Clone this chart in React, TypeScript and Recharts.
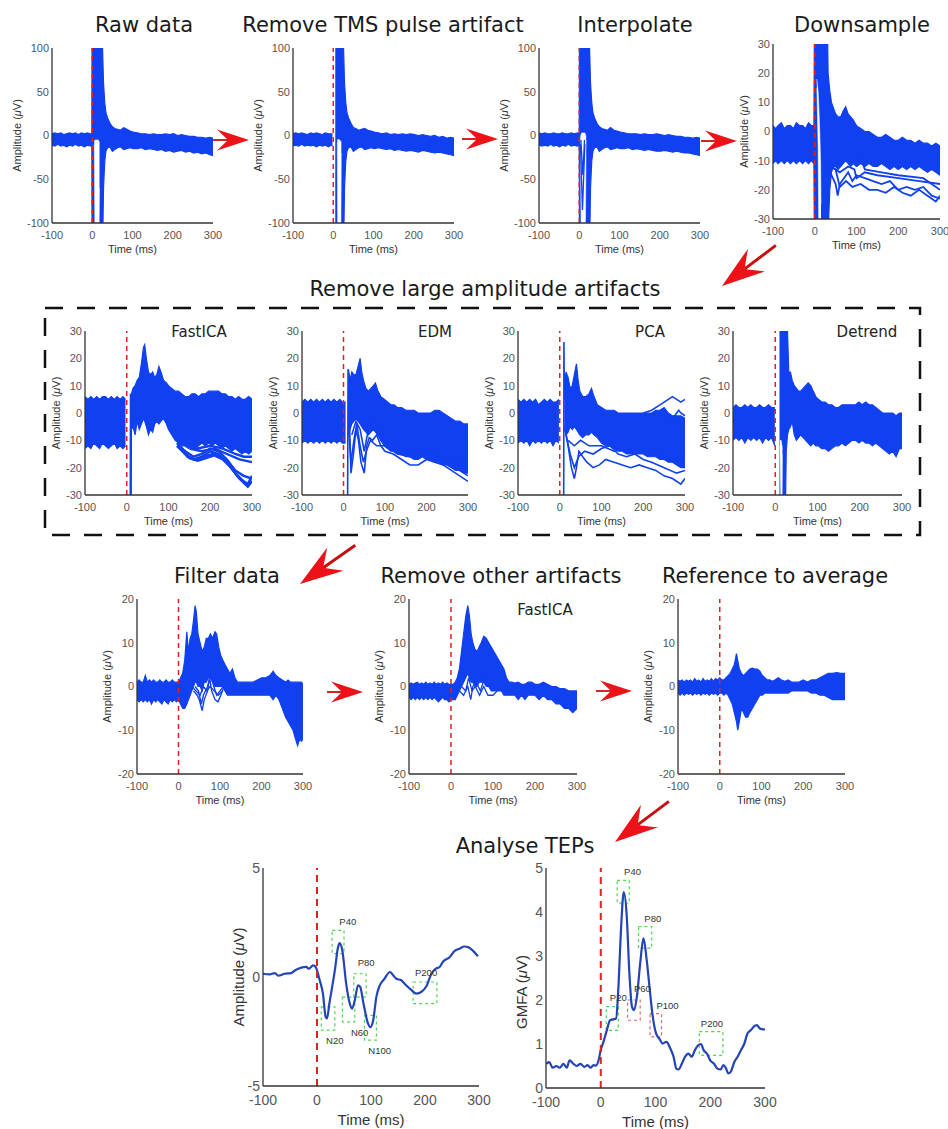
import React from 'react';
import { ComposedChart, Area, Line, XAxis, YAxis, ReferenceLine, ReferenceArea, Scatter } from 'recharts';

type Tri = [number, number, number];
type Pt = [number, number];

const BLUE = '#1040f0';
const TEP_BLUE = '#2443b6';
const TICK_FONT = 'Liberation Sans, Arial, sans-serif';
const TITLE_FONT = 'DejaVu Sans, Verdana, sans-serif';

const timeTicks = [-100, 0, 100, 200, 300];
const ticks100 = [-100, -50, 0, 50, 100];
const ticks30 = [-30, -20, -10, 0, 10, 20, 30];
const ticks20 = [-20, -10, 0, 10, 20];
const ticks5 = [-5, 0, 5];
const ticksGmfa = [0, 1, 2, 3, 4, 5];

// ---------- Row 1 ----------
const rawBand: Tri[] = [[-100,-11,2],[-93,-12,3],[-86,-10,2],[-78,-12,3],[-71,-11,1],[-64,-13,2],[-56,-11,3],[-49,-12,2],[-42,-10,3],[-34,-12,1],[-27,-11,3],[-20,-13,2],[-12,-11,3],[-5,-12,2],[-1,-11,2],
  [0,-200,200],[22,-200,200],[25,-150,110],[28,-60,60],[31,-30,38],[34,-18,26],[38,-14,20],[44,-13,14],[50,-18,10],[56,-16,8],[63,-14,7],[70,-13,6],[78,-16,9],[86,-15,7],[94,-14,5],[102,-15,4],[112,-15,3],[122,-14,2],[132,-16,2],[142,-15,1],[152,-16,2],[162,-17,1],[172,-16,1],[182,-18,2],[192,-17,1],[202,-19,2],[212,-18,0],[222,-17,1],[232,-19,0],[242,-18,-1],[252,-20,-1],[262,-19,-2],[272,-21,-2],[282,-20,-3],[292,-22,-2],[300,-23,-3]];
const rawHole: Tri[] = [[5,-10,-6],[8,-200,-5],[15,-200,-5],[18,-60,-8]];

const tmsPre: Tri[] = [[-100,-12,2],[-93,-11,3],[-86,-12,2],[-78,-10,3],[-71,-12,2],[-64,-11,1],[-56,-12,3],[-49,-11,2],[-42,-13,3],[-34,-11,2],[-27,-12,1],[-20,-11,3],[-12,-13,2],[-5,-11,2],[-2,-12,2]];
const tmsPost: Tri[] = [[5,-200,200],[22,-200,200],[25,-150,110],[28,-60,60],[31,-30,38],[34,-18,26],[38,-14,20],[44,-13,14],[50,-18,9],[56,-16,8],[63,-14,6],[70,-13,7],[78,-16,8],[86,-15,6],[94,-14,5],[102,-15,4],[112,-14,3],[122,-15,2],[132,-16,3],[142,-15,1],[152,-17,2],[162,-16,1],[172,-17,2],[182,-18,1],[192,-17,2],[202,-18,1],[212,-19,0],[222,-17,1],[232,-18,0],[242,-19,-1],[252,-20,0],[262,-19,-2],[272,-20,-1],[282,-21,-3],[292,-22,-2],[300,-23,-3]];
const tmsHole: Tri[] = [[10,-8,-6],[12,-200,-4],[18,-200,-6],[20,-20,-8]];

const interpBand: Tri[] = [[-100,-11,3],[-93,-12,2],[-86,-11,3],[-78,-12,2],[-71,-10,2],[-64,-12,3],[-56,-11,2],[-49,-13,2],[-42,-11,3],[-34,-12,2],[-27,-10,2],[-20,-12,3],[-12,-11,2],[-5,-12,3],[0,-11,2],
  [1,-200,200],[22,-200,200],[25,-150,110],[28,-60,60],[31,-30,38],[34,-18,26],[38,-14,20],[44,-13,14],[50,-18,10],[56,-16,8],[63,-14,7],[70,-13,6],[78,-16,9],[86,-15,6],[94,-14,5],[102,-15,4],[112,-15,3],[122,-14,2],[132,-16,2],[142,-15,2],[152,-16,1],[162,-17,2],[172,-16,1],[182,-17,1],[192,-18,2],[202,-18,1],[212,-17,0],[222,-18,1],[232,-19,0],[242,-18,-1],[252,-19,-1],[262,-20,-2],[272,-20,-2],[282,-21,-3],[292,-22,-2],[300,-23,-3]];
const interpHole: Tri[] = [[3,-3,-1],[6,-200,3],[14,-200,3],[17,-5,-1]];
const interpTraces: Pt[][] = [[[3,-10],[8,-85],[14,-10]], [[4,-5],[9,-45],[13,-5]]];

const downBand: Tri[] = [[-100,-11,2],[-94,-10,1],[-88,-11,2],[-80,-10,3],[-73,-11,1],[-66,-10,2],[-58,-11,2],[-51,-10,1],[-44,-11,3],[-36,-10,2],[-29,-11,2],[-22,-10,1],[-15,-11,3],[-8,-10,2],[-2,-11,2],
  [0,-60,60],[28,-60,60],[32,-35,20],[36,-20,14],[40,-14,10],[45,-12,8],[50,-12,6],[56,-13,5],[62,-12,5],[68,-11,7],[74,-10,8.5],[80,-11,6],[86,-12,5],[92,-11,4],[100,-12,2],[110,-11,1],[120,-12,0],[130,-11,0],[140,-12,-1],[150,-12,-2],[160,-11,-2],[170,-12,-1],[180,-13,-2],[190,-12,-3],[200,-13,-3],[210,-12,-2],[220,-13,-3],[230,-12,-3],[240,-13,-4],[250,-12,-3],[260,-13,-4],[270,-14,-4],[280,-13,-5],[290,-14,-4],[300,-15,-5]];
const downHole: Tri[] = [[5,15,18],[8,-5,14],[10,-40,8],[12,-40,0],[14,-40,-10],[15,-40,-25]];
const downTraces: Pt[][] = [
  [[30,-10],[40,-15],[50,-18],[55,-22],[60,-18],[70,-16],[80,-14],[90,-17],[100,-15],[120,-16],[140,-17],[160,-18],[180,-17],[200,-20],[220,-19],[240,-20],[260,-19],[280,-22],[300,-23]],
  [[35,-12],[50,-13],[60,-19],[75,-17],[90,-19],[110,-18],[130,-20],[150,-20],[170,-21],[190,-19],[210,-21],[230,-22],[250,-20],[270,-22],[290,-24],[300,-22]],
  [[40,-12],[60,-14],[80,-12],[95,-13],[100,-16],[120,-14],[150,-15],[200,-16],[250,-17],[300,-18]],
  [[100,-12],[110,-9],[120,-13],[160,-14],[200,-15],[260,-16],[300,-20]],
];

// ---------- Row 2 ----------
const icaPre: Tri[] = [[-100,-13,6],[-93,-12,5],[-86,-13,6],[-79,-11,5],[-72,-12,6],[-65,-13,5],[-58,-11,6],[-51,-12,6],[-44,-13,5],[-37,-12,6],[-30,-11,5],[-23,-13,6],[-16,-12,5],[-9,-13,6],[-3,-12,5]];
const icaPost: Tri[] = [[11,-6,7],[15,-5,9],[20,-8,10],[25,-3,12],[30,-6,13],[35,-4,18],[40,-2,24],[43,-3,25],[47,-5,20],[52,-8,15],[57,-6,14],[62,-7,15],[67,-4,13],[72,-3,14],[77,-4,17],[82,-3,15],[88,-2,12],[95,-4,11],[100,-6,10],[108,-8,9],[116,-10,8],[124,-11,8],[132,-12,7],[140,-12,6],[148,-13,6],[156,-12,7],[164,-13,7],[172,-12,6],[180,-11,7],[188,-12,7],[196,-11,8],[204,-12,8],[212,-11,8],[220,-12,8],[228,-13,7],[236,-12,7],[244,-13,6],[252,-14,6],[260,-13,5],[268,-14,6],[276,-15,5],[284,-14,5],[292,-15,6],[300,-14,5]];
const icaTraces: Pt[][] = [
  [[9.5,-30],[10,7],[12,-5]],
  [[120,-12],[140,-15],[160,-17],[180,-16],[200,-14],[220,-15],[240,-18],[260,-22],[280,-25],[290,-26],[300,-23]],
  [[120,-11],[140,-14],[160,-16],[180,-15],[200,-13],[220,-14],[240,-17],[260,-21],[280,-23],[300,-24]],
  [[125,-12],[145,-16],[165,-17],[185,-16],[205,-15],[225,-16],[245,-19],[265,-23],[285,-26],[300,-25]],
  [[130,-13],[150,-16.5],[170,-17.5],[190,-16.5],[210,-15.5],[230,-17],[250,-20],[270,-24],[290,-27],[300,-25]],
  [[140,-12],[170,-13],[200,-12],[230,-13],[260,-15],[280,-16],[300,-16]],
  [[150,-13],[180,-14],[210,-13],[240,-15],[270,-17],[300,-18]],
];

const edmBand: Tri[] = [[-100,-11,4],[-93,-10,5],[-86,-11,4],[-79,-10,5],[-72,-11,4],[-65,-10,5],[-58,-11,4],[-51,-10,5],[-44,-11,4],[-37,-10,5],[-30,-11,4],[-23,-10,5],[-16,-11,4],[-9,-10,5],[-3,-11,4],[5,-11,4]];
const edmPost: Tri[] = [[12,-8,16],[16,-6,12],[20,-4,15],[25,-3,14],[30,-2,14],[35,-3,17],[40,-4,20],[44,-5,15],[48,-6,12],[54,-7,9],[60,-8,8],[66,-7,9],[72,-6,10],[77,-7,11],[83,-8,8],[90,-10,6],[98,-12,5],[106,-13,4],[114,-14,3],[122,-14,3],[130,-15,2],[140,-15,2],[150,-16,1],[160,-16,1],[170,-17,1],[180,-17,0],[190,-16,0],[200,-17,0],[210,-17,0],[220,-18,1],[230,-18,1],[240,-19,0],[250,-19,-1],[260,-20,-2],[270,-21,-3],[280,-21,-3],[290,-22,-4],[300,-22,-4]];
const edmTraces: Pt[][] = [
  [[10,-30],[11,16],[14,-2],[18,-22],[24,-15],[30,-6],[36,-10],[42,-18],[46,-20],[50,-22],[56,-12],[62,-9],[70,-10],[80,-8],[90,-12],[100,-14],[120,-15],[140,-17],[160,-19],[180,-19],[200,-17],[220,-18],[240,-19],[260,-21],[280,-23],[300,-25]],
  [[12,-5],[18,-18],[25,-10],[32,-4],[40,-12],[48,-18],[55,-14],[65,-10],[80,-12],[100,-12],[130,-15],[160,-16],[190,-15],[220,-17],[250,-19],[280,-21],[300,-23]],
  [[20,-8],[30,-3],[40,-6],[50,-14],[60,-6],[75,-2],[90,-10],[120,-12],[160,-14],[200,-15],[240,-16],[270,-18],[300,-20]],
];

const pcaPre: Tri[] = [[-100,-11,5],[-93,-10,4],[-86,-11,5],[-79,-10,4],[-72,-12,5],[-65,-10,4],[-58,-11,5],[-51,-10,3],[-44,-11,4],[-37,-10,5],[-30,-11,4],[-23,-10,5],[-16,-12,4],[-9,-10,4],[-2,-11,5]];
const pcaPost: Tri[] = [[11,-6,10],[15,-8,15],[20,-7,13],[25,-5,9],[30,-6,10],[35,-5,14],[40,-6,18],[44,-7,12],[48,-8,8],[55,-9,6],[62,-8,6],[70,-8,7],[76,-7,9],[82,-8,6],[90,-9,3],[100,-11,2],[110,-12,1],[120,-12,1],[130,-13,1],[140,-14,0],[150,-14,0],[160,-15,0],[170,-15,0],[180,-15,0],[190,-15,0],[200,-15,0],[210,-16,0],[220,-16,0],[230,-16,1],[240,-17,1],[250,-17,2],[260,-18,0],[270,-18,-1],[280,-19,-1],[290,-20,-1],[300,-20,-2]];
const pcaTraces: Pt[][] = [
  [[9.5,-30],[10,26],[11,5]],
  [[200,0],[220,1],[240,3],[260,5],[270,6],[280,5],[290,4],[300,5]],
  [[230,0],[250,-1],[270,-2],[285,1],[290,0],[300,-1]],
  [[12,-5],[20,-12],[28,-20],[35,-24],[40,-20],[46,-14],[55,-16],[65,-18],[80,-20],[95,-19],[110,-17],[130,-18],[150,-19],[170,-20],[190,-19],[210,-20],[230,-21],[250,-23],[270,-24],[290,-26],[300,-24]],
  [[15,-8],[25,-15],[35,-20],[45,-16],[60,-14],[80,-15],[100,-13],[120,-12],[140,-15],[160,-16],[180,-15],[200,-17],[220,-18],[250,-20],[280,-22],[300,-21]],
  [[20,-10],[35,-12],[50,-10],[70,-12],[100,-12],[130,-14],[160,-13],[200,-14],[230,-15],[260,-17],[300,-18]],
];

const detPre: Tri[] = [[-100,-10,2],[-93,-9,3],[-86,-10,2],[-79,-9,2],[-72,-11,3],[-65,-9,2],[-58,-10,3],[-51,-9,2],[-44,-10,2],[-37,-9,3],[-30,-11,2],[-23,-9,2],[-16,-10,3],[-9,-9,2],[-1,-12,2]];
const detPost: Tri[] = [[10,-60,60],[22,-60,60],[26,-14,60],[29,-8,30],[32,-6,15],[36,-5,15],[40,-3,12],[45,-8,10],[50,-10,9],[55,-9,8],[60,-8,8],[66,-9,9],[72,-10,10],[78,-11,11],[84,-12,10],[90,-11,8],[96,-12,6],[102,-12,5],[110,-13,4],[118,-13,4],[126,-14,3],[134,-13,3],[142,-12,2],[150,-12,2],[158,-11,3],[166,-12,3],[174,-11,3],[182,-10,3],[190,-10,3],[198,-11,4],[206,-10,3],[214,-11,4],[222,-11,3],[230,-12,3],[238,-11,2],[246,-12,1],[254,-13,0],[262,-14,0],[270,-15,0],[278,-14,0],[286,-16,-1],[294,-13,0],[300,-13,0]];
const detHole: Tri[] = [[11,-12,-10],[14,-40,-10],[16,-40,-12],[17,-15,-13]];

// ---------- Row 3 ----------
const filtBand: Tri[] = [[-100,-3,1],[-95,-3.5,1.5],[-90,-3,1],[-85,-3.5,1],[-80,-3,2.5],[-75,-3.5,1],[-70,-3,1.5],[-65,-4,1],[-60,-3,1.5],[-55,-3.5,1],[-50,-3,1],[-45,-3.5,1.5],[-40,-4,1],[-35,-3,1],[-30,-3.5,1.5],[-25,-4,1],[-20,-3,1],[-15,-3.5,1.5],[-10,-3,1],[-5,-3.5,1],[0,-3,1],
  [5,-4,2],[10,-5,3],[15,-5,6],[20,-4,12.5],[24,-3,8],[28,-2,11],[32,-1,12],[36,0,15],[40,1,18.5],[43,1,17],[47,0,12],[52,0,10],[57,-1,8],[62,1,9],[67,1,11],[72,2,11],[77,2,12],[82,1,11],[88,0,12.5],[92,0,12],[97,0,9],[102,0,7],[107,0,6],[112,-1,5],[118,-2,4],[124,-2,3],[130,-2,4],[136,-2,2],[142,-2,1],[150,-2,1],[160,-2,1],[170,-2,1],[180,-2,1],[190,-2,1.5],[200,-2,2],[210,-2,2],[220,-2,2.5],[228,-3,3.5],[235,-2,2.5],[242,-3,2],[250,-5,1.5],[258,-7,1],[264,-8,1.5],[270,-9,1],[276,-10,1],[282,-12,1],[287,-13.5,1],[292,-12,1],[296,-12.5,1],[300,-12,0.5]];
const filtTraces: Pt[][] = [
  [[36,-1],[45,-2],[50,-3],[57,-5.5],[62,-3],[70,-1],[75,2],[80,-1],[88,-3],[95,-3.5],[102,-2],[110,0]],
  [[40,0],[48,-1],[55,-4],[60,-2],[70,0],[78,3],[85,0],[92,-2],[100,-1],[108,0]],
  [[32,0],[42,-1],[52,-2],[60,0],[68,-1],[76,0],[86,-1],[96,-2],[106,-1]],
];

const otherBand: Tri[] = [[-100,-2.5,0.5],[-95,-3,0.8],[-90,-2.5,0.5],[-85,-3,0.8],[-80,-2.5,1],[-75,-3,0.5],[-70,-2.5,0.8],[-65,-3,0.5],[-60,-2.5,1],[-55,-3,0.5],[-50,-2.5,0.8],[-45,-3,0.5],[-40,-2.5,1],[-35,-3,0.5],[-30,-3.5,0.8],[-25,-3,0.5],[-20,-2.5,1],[-15,-3,0.5],[-10,-3,0.8],[-5,-3.5,0.5],[0,-3,0.5],
  [5,-3,0.5],[10,-3,1],[15,-2,2],[20,-1,4],[25,0,8],[30,1,12],[35,2,16],[40,3,18.5],[44,2,16],[48,1,12],[52,1,10],[57,0,8.5],[62,0,8],[67,1,9],[72,1,10],[78,1,11.5],[84,0,11],[90,0,10],[96,-1,9],[102,-1,8],[108,-1,7],[114,-1,6],[120,-1,5],[126,-2,4],[132,-2,2],[138,-2,1],[145,-2,1],[152,-2,0.8],[160,-3,1],[168,-2,0.5],[176,-3,0.5],[184,-2,1],[192,-2,1],[200,-2,0.5],[210,-3,0.5],[220,-2,1],[230,-3,0.5],[240,-3,0],[250,-4,0],[260,-4,-0.5],[270,-5,-0.5],[280,-5,-1],[290,-6,-1],[300,-5,-1]];
const otherTraces: Pt[][] = [
  [[20,-1],[30,-2],[40,0],[47,-3],[52,0],[60,1],[70,-1],[80,2],[90,0],[100,-1]],
  [[25,0],[35,-1],[42,2],[50,-1],[58,0],[68,-2],[78,0],[88,-2],[100,-2],[110,-1]],
];

const refBand: Tri[] = [[-100,-1.5,1.5],[-95,-2,1.2],[-90,-1.5,1.5],[-85,-2,1],[-80,-1.5,1.5],[-75,-1.8,1.2],[-70,-1.5,1.5],[-65,-2,1],[-60,-1.5,1.8],[-55,-1.8,1.2],[-50,-1.5,1.5],[-45,-2,1],[-40,-1.5,1.8],[-35,-1.8,1.2],[-30,-1.5,1.5],[-25,-2,1.2],[-20,-1.5,1.8],[-15,-1.8,1.2],[-10,-1.5,1.8],[-5,-2,1.5],[0,-1.5,2],
  [5,-1.5,1.5],[10,-2,1.5],[15,-1.5,2],[20,-2,2.5],[25,-3,3],[30,-4,4],[35,-6,5],[40,-8,7.5],[43,-10,6],[47,-8,4],[52,-5,3],[57,-6,2.5],[62,-7,3],[67,-7,3.5],[72,-6,4],[78,-5,4.2],[84,-4,4],[90,-3,4],[96,-2,3.5],[102,-2,2.5],[108,-1.5,2],[114,-1.5,1.5],[120,-1.5,1.5],[126,-1.5,1.2],[132,-1.5,1.5],[140,-1.5,2],[148,-1.5,1.5],[156,-1.5,1.2],[164,-1.5,1.5],[172,-1,1],[180,-1,1],[190,-1,1],[200,-1,1.5],[210,-1,1],[220,-1.5,1.5],[230,-1.5,1.5],[240,-2,2],[250,-2,2.5],[260,-2.5,3],[270,-3,3],[280,-3,3.2],[290,-3,3],[300,-3,3]];

// ---------- Row 4 ----------
const tepAmp: Pt[] = [[-100,0.15],[-88,0.12],[-78,0.18],[-72,0.06],[-60,0.15],[-48,0.18],[-41,0.3],[-29,0.43],[-20,0.46],[-15,0.38],[-7,0.53],[-2.5,0.46],[5,-0.15],[11,-0.76],[16,-1.83],[18.5,-1.9],[23,-1.2],[33,0.3],[39,1.37],[42,1.55],[47,1.2],[54,-0.3],[60.5,-1.2],[65,-1.45],[70,-1.07],[76,-0.38],[80,-0.45],[86,-1.2],[94,-2.1],[99,-2.3],[104,-2.0],[110,-0.9],[116,-0.4],[125,-0.08],[135,0.23],[141,0.08],[147,-0.08],[156,-0.15],[165,-0.38],[175,-0.6],[184,-0.76],[193,-0.69],[202,-0.45],[212,0.15],[220,0.38],[227,0.46],[233,0.69],[246,0.92],[255,1.2],[264,1.3],[273,1.4],[280,1.37],[289,1.2],[298,0.95]];
const tepGmfa: Pt[] = [[-100,0.55],[-94,0.59],[-88,0.46],[-81,0.5],[-75,0.46],[-68,0.55],[-62,0.46],[-57,0.63],[-50,0.55],[-44,0.5],[-37,0.55],[-30,0.48],[-24,0.52],[-19,0.46],[-13,0.52],[-8.5,0.51],[-4,0.63],[0,0.86],[5,1.05],[11,1.31],[17,1.54],[23,1.56],[28,1.58],[32,2.23],[37,3.6],[42,4.45],[47.5,3.9],[52,2.68],[57,1.85],[61,1.77],[66,2.07],[72,2.83],[78,3.4],[84,2.9],[89,2.3],[95,1.62],[101,1.24],[107,1.12],[113,1.01],[120,1.05],[127,0.9],[133,0.71],[138,0.44],[142,0.42],[148,0.55],[154,0.71],[160,0.78],[166,0.71],[172,0.86],[178,0.97],[183,1.0],[188,0.86],[194,0.78],[200,0.63],[207,0.55],[213,0.44],[219,0.42],[224,0.52],[229,0.44],[233,0.33],[237,0.36],[244,0.59],[250,0.71],[256,0.86],[262,1.0],[268,1.24],[274,1.31],[280,1.4],[285,1.43],[291,1.35],[300,1.33]];

type Box = [number, number, number, number, string];
const ampBoxes: Box[] = [[8,33,-1.37,-2.44,'g'],[28,50,2.14,1.07,'g'],[47,70,-0.92,-2.06,'g'],[68,91,0.15,-0.92,'g'],[88,110,-1.76,-2.9,'g'],[178,222,-0.23,-1.22,'g']];
const gmfaBoxes: Box[] = [[10,32,1.85,1.31,'g'],[30,52,4.72,4.2,'g'],[49,72,2.0,1.54,'r'],[69,93,3.67,3.18,'g'],[90,111,1.69,1.16,'r'],[180,223,1.28,0.74,'g']];
const ampLabels = [{t:57,v:2.5,name:'P40'},{t:91,v:0.6,name:'P80'},{t:202,v:0.15,name:'P200'},{t:33,v:-2.98,name:'N20'},{t:79,v:-2.6,name:'N60'},{t:116,v:-3.4,name:'N100'}];
const gmfaLabels = [{t:58,v:4.9,name:'P40'},{t:95,v:3.84,name:'P80'},{t:32,v:2.04,name:'P20'},{t:76,v:2.24,name:'P60'},{t:122,v:1.86,name:'P100'},{t:203,v:1.44,name:'P200'}];

const toBand = (a: Tri[]) => a.map(([t, lo, hi]) => ({ t, r: [lo, hi] }));
const toLine = (a: Pt[]) => a.map(([t, v]) => ({ t, v }));

type PanelProps = {
  L: number; T: number; W: number; H: number;
  yDomain: [number, number]; yTicks: number[];
  bands?: Tri[][]; holes?: Tri[][]; traces?: Pt[][]; tw?: number;
  big?: boolean; line?: Pt[]; boxes?: Box[]; labels?: { t: number; v: number; name: string }[];
};

function Panel(p: PanelProps) {
  const YW = 45, MT = 14, MR = 14, XH = 40;
  const fs = p.big ? 14 : 11;
  return (
    <div style={{ position: 'absolute', left: p.L - YW, top: p.T - MT }}>
      <ComposedChart width={p.W + YW + MR} height={p.H + MT + XH} margin={{ top: MT, right: MR, left: 0, bottom: 0 }}>
        <XAxis type="number" dataKey="t" domain={[-100, 300]} ticks={timeTicks} allowDataOverflow height={XH}
          axisLine={{ stroke: '#333', strokeWidth: 1.3 }} tickLine={false} tickSize={4} tickMargin={p.big ? 5 : 4}
          tick={{ fill: '#555555', fontSize: fs, fontFamily: TICK_FONT }} interval={0} />
        <YAxis type="number" domain={p.yDomain} ticks={p.yTicks} allowDataOverflow width={YW}
          axisLine={{ stroke: '#333', strokeWidth: 1.3 }} tickLine={false} tickSize={2} tickMargin={1}
          tick={{ fill: '#555555', fontSize: fs, fontFamily: TICK_FONT }} interval={0} />
        {(p.bands || []).map((b, i) => (
          <Area key={'b' + i} data={toBand(b)} dataKey="r" type="linear" stroke={BLUE} strokeWidth={1.2}
            fill={BLUE} fillOpacity={1} dot={false} activeDot={false} isAnimationActive={false} />
        ))}
        {(p.holes || []).map((b, i) => (
          <Area key={'h' + i} data={toBand(b)} dataKey="r" type="linear" stroke="#ffffff" strokeWidth={0.5}
            fill="#ffffff" fillOpacity={1} dot={false} activeDot={false} isAnimationActive={false} />
        ))}
        {(p.traces || []).map((tr, i) => (
          <Line key={'t' + i} data={toLine(tr)} dataKey="v" type="linear" stroke={BLUE} strokeWidth={p.tw ?? 1.3}
            dot={false} activeDot={false} isAnimationActive={false} />
        ))}
        {(p.boxes || []).map((b, i) => (
          <ReferenceArea key={'x' + i} x1={b[0]} x2={b[1]} y1={b[3]} y2={b[2]} fill="none" fillOpacity={0}
            stroke={b[4] === 'g' ? '#4fd64f' : '#e06a6a'} strokeDasharray="3 3" strokeWidth={1.2} ifOverflow="visible" />
        ))}
        {p.line && (
          <Line data={toLine(p.line)} dataKey="v" type="monotone" stroke={TEP_BLUE} strokeWidth={2.2}
            dot={false} activeDot={false} isAnimationActive={false} />
        )}
        {p.labels && (
          <Scatter data={p.labels} dataKey="v" isAnimationActive={false}
            shape={(s: any) => (
              <text x={s.cx} y={s.cy} textAnchor="middle" dominantBaseline="middle" fontSize={9.5}
                fill="#333" fontFamily={TICK_FONT}>{s.payload.name}</text>
            )} />
        )}
        <ReferenceLine x={0} stroke="#dd2222" strokeDasharray={p.big ? '7 5' : '5 4'} strokeWidth={p.big ? 2 : 1.5} />
      </ComposedChart>
    </div>
  );
}

type Geo = { L: number; T: number; W: number; H: number; yl: string; off: number; big?: boolean; ylc?: number };
const geoms: Geo[] = [
  { L: 52, T: 48, W: 161, H: 175, yl: 'amp', off: 34 },
  { L: 293, T: 48, W: 161, H: 175, yl: 'amp', off: 34 },
  { L: 539, T: 48, W: 161, H: 175, yl: 'amp', off: 34 },
  { L: 773, T: 44, W: 167, H: 175, yl: 'amp', off: 28 },
  { L: 85, T: 331, W: 167, H: 164, yl: 'amp', off: 28 },
  { L: 302, T: 331, W: 166, H: 164, yl: 'amp', off: 28 },
  { L: 518, T: 331, W: 167, H: 164, yl: 'amp', off: 28 },
  { L: 733, T: 331, W: 169, H: 164, yl: 'amp', off: 28 },
  { L: 137, T: 599, W: 166, H: 175, yl: 'amp', off: 29 },
  { L: 409, T: 599, W: 168, H: 175, yl: 'amp', off: 29 },
  { L: 678, T: 599, W: 167, H: 175, yl: 'amp', off: 29 },
  { L: 263, T: 868, W: 216, H: 218, yl: 'amp', off: 23, big: true },
  { L: 546, T: 868, W: 219, H: 220, yl: 'gmfa', off: 23, big: true, ylc: 992 },
];

const titles = [
  { s: 'Raw data', x: 144, y: 32 },
  { s: 'Remove TMS pulse artifact', x: 383, y: 32 },
  { s: 'Interpolate', x: 635, y: 32 },
  { s: 'Downsample', x: 862, y: 32 },
  { s: 'Remove large amplitude artifacts', x: 485, y: 296 },
  { s: 'Filter data', x: 227, y: 583 },
  { s: 'Remove other artifacts', x: 501, y: 583 },
  { s: 'Reference to average', x: 775, y: 583 },
  { s: 'Analyse TEPs', x: 525, y: 853 },
];
const methods = [
  { s: 'FastICA', x: 199, y: 337 },
  { s: 'EDM', x: 435, y: 337 },
  { s: 'PCA', x: 650, y: 337 },
  { s: 'Detrend', x: 867, y: 337 },
  { s: 'FastICA', x: 545, y: 615 },
];
const arrows = [
  { x: 249, y: 140, a: 0, k: 1 },
  { x: 498, y: 139, a: 0, k: 1 },
  { x: 737, y: 141, a: 0, k: 1 },
  { x: 363, y: 692, a: 0, k: 1 },
  { x: 632, y: 691, a: 0, k: 1 },
  { x: 722, y: 286, a: 143, k: 1.35 },
  { x: 300, y: 584, a: 145, k: 1.35 },
  { x: 615, y: 842, a: 143, k: 1.35 },
];

function Arrow({ x, y, a, k }: { x: number; y: number; a: number; k: number }) {
  return (
    <g transform={`translate(${x},${y}) rotate(${a}) scale(${k})`}>
      <line x1={-21} y1={0} x2={k > 1 ? -50 : -36} y2={0} stroke="#c81010" strokeWidth={k > 1 ? 2.2 : 1.8} />
      <path d="M0,0 L-32,-10.5 Q-24,-3 -21,0 Q-24,3 -32,10.5 Z" fill="#ec1218" />
    </g>
  );
}

export default function App() {
  const data = [
    { bands: [rawBand], holes: [rawHole], yDomain: [-100, 100] as [number, number], yTicks: ticks100 },
    { bands: [tmsPre, tmsPost], holes: [tmsHole], yDomain: [-100, 100] as [number, number], yTicks: ticks100 },
    { bands: [interpBand], holes: [interpHole], traces: interpTraces, yDomain: [-100, 100] as [number, number], yTicks: ticks100 },
    { bands: [downBand], holes: [downHole], traces: downTraces, tw: 1.8, yDomain: [-30, 30] as [number, number], yTicks: ticks30 },
    { bands: [icaPre, icaPost], traces: icaTraces, tw: 2.4, yDomain: [-30, 30] as [number, number], yTicks: ticks30 },
    { bands: [edmBand, edmPost], traces: edmTraces, tw: 1.6, yDomain: [-30, 30] as [number, number], yTicks: ticks30 },
    { bands: [pcaPre, pcaPost], traces: pcaTraces, tw: 1.6, yDomain: [-30, 30] as [number, number], yTicks: ticks30 },
    { bands: [detPre, detPost], holes: [detHole], yDomain: [-30, 30] as [number, number], yTicks: ticks30 },
    { bands: [filtBand], traces: filtTraces, tw: 1.4, yDomain: [-20, 20] as [number, number], yTicks: ticks20 },
    { bands: [otherBand], traces: otherTraces, yDomain: [-20, 20] as [number, number], yTicks: ticks20 },
    { bands: [refBand], yDomain: [-20, 20] as [number, number], yTicks: ticks20 },
    { line: tepAmp, boxes: ampBoxes, labels: ampLabels, yDomain: [-5, 5] as [number, number], yTicks: ticks5 },
    { line: tepGmfa, boxes: gmfaBoxes, labels: gmfaLabels, yDomain: [0, 5] as [number, number], yTicks: ticksGmfa },
  ];
  return (
    <div style={{ position: 'absolute', left: 0, top: 0, width: 948, height: 1129, background: '#fff', overflow: 'hidden' }}>
      {geoms.map((g, i) => (
        <Panel key={i} L={g.L} T={g.T} W={g.W} H={g.H} big={g.big} {...data[i]} />
      ))}
      <svg width={948} height={1129} style={{ position: 'absolute', left: 0, top: 0, pointerEvents: 'none' }}>
        <rect x={45} y={308} width={875} height={227} fill="none" stroke="#111" strokeWidth={2.5} strokeDasharray="18 14" />
        {titles.map((t, i) => (
          <text key={i} x={t.x} y={t.y} textAnchor="middle" fontSize={21} fontFamily={TITLE_FONT} fill="#1a1a1a">{t.s}</text>
        ))}
        {methods.map((t, i) => (
          <text key={i} x={t.x} y={t.y} textAnchor="middle" fontSize={15} fontFamily={TITLE_FONT} fill="#222">{t.s}</text>
        ))}
        {geoms.map((g, i) => {
          const fs = g.big ? 15 : 11;
          const cx = g.L - g.off;
          const cy = g.ylc ?? g.T + g.H / 2;
          return (
            <g key={i}>
              <text transform={`translate(${cx},${cy}) rotate(-90)`} textAnchor="middle" dominantBaseline="middle"
                fontSize={fs} fontFamily={TICK_FONT} fill="#333">
                {g.yl === 'gmfa' ? 'GMFA (' : 'Amplitude ('}<tspan fontStyle="italic">μ</tspan>V)
              </text>
              <text x={g.L + g.W / 2} y={g.T + g.H + (g.big ? 39 : 30)} textAnchor="middle" fontSize={fs}
                fontFamily={TICK_FONT} fill="#333">Time (ms)</text>
            </g>
          );
        })}
        {arrows.map((a, i) => <Arrow key={i} {...a} />)}
      </svg>
    </div>
  );
}
